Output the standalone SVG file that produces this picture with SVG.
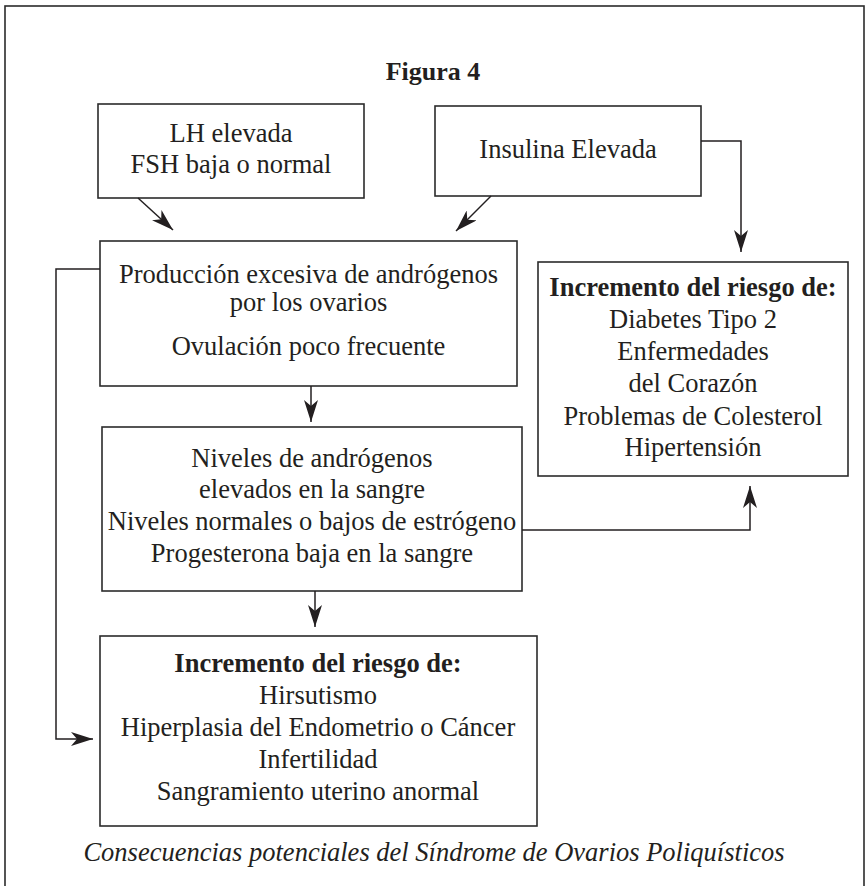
<svg xmlns="http://www.w3.org/2000/svg" width="866" height="886" viewBox="0 0 866 886">
<style>
.box{fill:#fff;stroke:#2b2b2b;stroke-width:1.6}
.frame{fill:#fff;stroke:#2b2b2b;stroke-width:1.6}
.t{font-family:"Liberation Serif","Times New Roman",serif;font-size:26.5px;fill:#231f20;text-anchor:middle}
.b{font-weight:bold}
.cap{font-style:italic;font-size:26.5px}
.ttl{font-weight:bold;font-size:26px}
.ln{fill:none;stroke:#231f20;stroke-width:1.5}
</style>
<defs>
<marker id="ah" markerUnits="userSpaceOnUse" viewBox="0 0 22 14" markerWidth="22" markerHeight="14" refX="22" refY="7" orient="auto">
<path d="M0,0 L22,7 L0,14 L6,7 z" fill="#231f20"/>
</marker>
</defs>
<rect class="frame" x="5" y="6" width="859" height="890"/>
<text class="t ttl" x="433" y="80">Figura 4</text>
<g id="lh">
<rect class="box" x="98" y="104" width="266" height="94"/>
<text class="t" x="231" y="142">LH elevada</text>
<text class="t" x="231" y="173">FSH baja o normal</text>
</g>
<g id="insulina">
<rect class="box" x="435" y="106" width="266" height="90"/>
<text class="t" x="568" y="158">Insulina Elevada</text>
</g>
<g id="produccion">
<rect class="box" x="100" y="241" width="417" height="145"/>
<text class="t" x="308.5" y="283">Producción excesiva de andrógenos</text>
<text class="t" x="308.5" y="311">por los ovarios</text>
<text class="t" x="308.5" y="355">Ovulación poco frecuente</text>
</g>
<g id="niveles">
<rect class="box" x="102" y="427" width="420" height="164"/>
<text class="t" x="312" y="467">Niveles de andrógenos</text>
<text class="t" x="312" y="498">elevados en la sangre</text>
<text class="t" x="312" y="530">Niveles normales o bajos de estrógeno</text>
<text class="t" x="312" y="562">Progesterona baja en la sangre</text>
</g>
<g id="riesgo-metabolico">
<rect class="box" x="538" y="262" width="310" height="214"/>
<text class="t b" x="693" y="296">Incremento del riesgo de:</text>
<text class="t" x="693" y="328">Diabetes Tipo 2</text>
<text class="t" x="693" y="360">Enfermedades</text>
<text class="t" x="693" y="392">del Corazón</text>
<text class="t" x="693" y="425">Problemas de Colesterol</text>
<text class="t" x="693" y="456">Hipertensión</text>
</g>
<g id="riesgo-reproductivo">
<rect class="box" x="100" y="636" width="437" height="190"/>
<text class="t b" x="318" y="672">Incremento del riesgo de:</text>
<text class="t" x="318" y="704">Hirsutismo</text>
<text class="t" x="318" y="736">Hiperplasia del Endometrio o Cáncer</text>
<text class="t" x="318" y="768">Infertilidad</text>
<text class="t" x="318" y="800">Sangramiento uterino anormal</text>
</g>
<g id="connectors">
<path class="ln" d="M138,198 L173,230" marker-end="url(#ah)"/>
<path class="ln" d="M491,196 L456,231" marker-end="url(#ah)"/>
<path class="ln" d="M701,141 H741 V252" marker-end="url(#ah)"/>
<path class="ln" d="M311,386 V422" marker-end="url(#ah)"/>
<path class="ln" d="M315,591 V627" marker-end="url(#ah)"/>
<path class="ln" d="M522,530 H750 V486" marker-end="url(#ah)"/>
<path class="ln" d="M100,269 H56 V739 H93" marker-end="url(#ah)"/>
</g>
<text class="t cap" x="434" y="861">Consecuencias potenciales del Síndrome de Ovarios Poliquísticos</text>
</svg>
